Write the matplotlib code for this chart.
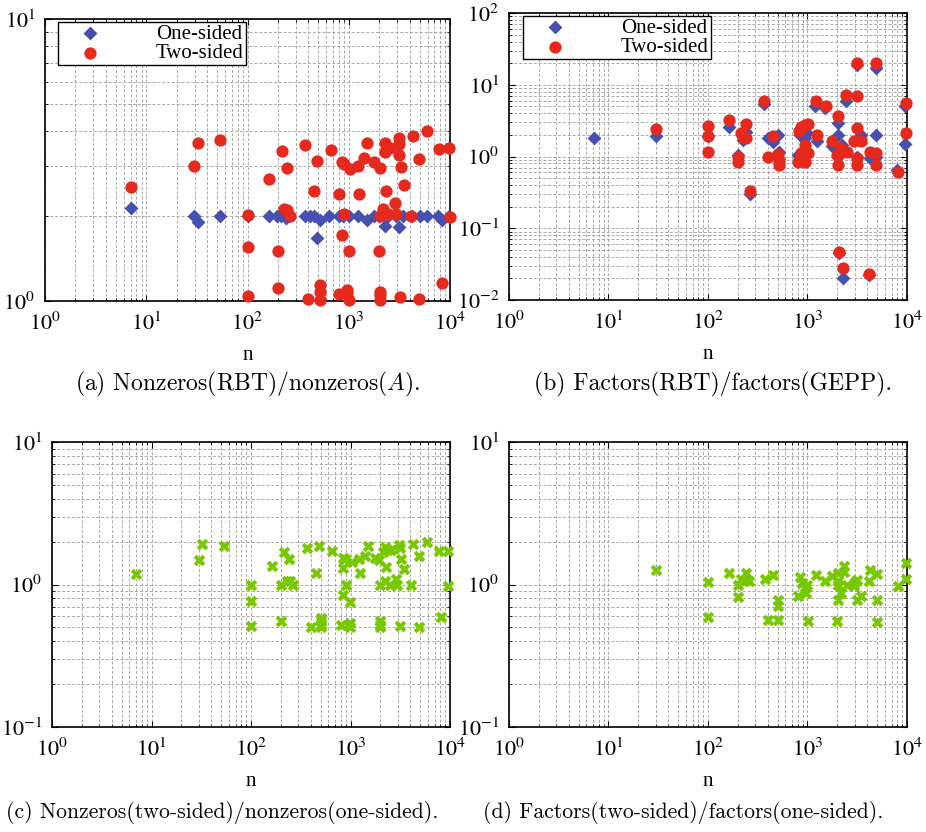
import numpy as np
import matplotlib
matplotlib.use("Agg")
import matplotlib.pyplot as plt
from matplotlib.ticker import LogLocator, FixedLocator, NullFormatter

plt.rcParams['font.family'] = ['Liberation Serif', 'DejaVu Serif']
plt.rcParams['mathtext.fontset'] = 'stix'

# ---- data: panel (a) nonzeros(RBT)/nonzeros(A)
a_one_n = [7.07, 29.9, 32.7, 53.5, 100, 164, 197, 213, 240, 259, 370, 414, 454, 482, 520, 643, 807, 885,
           1000, 1244, 1503, 1791, 2005, 2280, 2461, 2931, 3160, 3460, 4180, 5055, 5970, 7670, 8280, 9850]
a_one_r = [2.13, 2.0, 1.90, 2.0, 2.0, 2.0, 2.0, 2.0, 1.97, 2.0, 2.0, 2.0, 2.0, 1.67, 1.94, 2.0, 2.0, 2.0,
           2.0, 2.0, 1.94, 2.0, 2.0, 1.85, 2.0, 2.0, 1.83, 2.0, 2.0, 2.0, 2.0, 2.0, 1.94, 2.0]
a_two_n = [7.07, 29.9, 32.7, 53.5, 101, 101, 101, 164, 219, 229, 244, 244, 263, 200, 200, 370, 398, 454,
           482, 520, 520, 515, 663, 807, 850, 897, 897, 850, 801, 968, 968, 1013, 1013, 1029, 1233, 1262,
           1415, 1503, 1791, 2036, 2005, 2020, 2020, 2020, 2020, 2280, 2280, 2340, 2556, 2320, 2200, 2461,
           2862, 2931, 3160, 3160, 3160, 3260, 3513, 3180, 4120, 4350, 4940, 4940, 5970, 7730, 8280, 9700,
           10000]
a_two_r = [2.53, 3.01, 3.64, 3.72, 2.02, 1.56, 1.04, 2.71, 3.41, 2.12, 2.11, 2.97, 2.0, 1.50, 1.11, 3.56,
           1.02, 2.45, 3.14, 1.14, 1.08, 1.01, 3.43, 2.39, 3.10, 3.05, 2.03, 1.71, 1.06, 1.09, 1.07, 1.01,
           1.51, 2.94, 3.01, 2.40, 3.22, 3.62, 3.10, 2.97, 1.50, 2.0, 1.08, 1.05, 1.01, 3.62, 3.38, 3.43,
           3.50, 2.46, 2.12, 2.03, 2.23, 2.03, 3.80, 3.60, 3.29, 2.99, 2.57, 1.03, 2.0, 3.84, 3.20, 1.02,
           4.0, 3.45, 1.16, 3.48, 1.98]

# ---- data: panel (b) factors(RBT)/factors(GEPP)
b_one_n = [7.1, 30.3, 100, 163, 200, 225, 243, 262, 365, 401, 450, 505, 520, 803, 834, 950, 988, 1200,
           1255, 1486, 1777, 2028, 2028, 2056, 2240, 2028, 2275, 2420, 3170, 3170, 3420, 4290, 4120, 4920,
           4920, 4920, 8000, 9620, 9620]
b_one_r = [1.80, 1.90, 1.94, 2.56, 1.05, 1.71, 2.23, 0.30, 5.43, 1.80, 1.58, 2.0, 1.14, 1.05, 2.0, 1.8,
           2.1, 5.1, 1.62, 4.72, 1.38, 2.92, 2.0, 0.0448, 1.46, 1.0, 0.020, 5.85, 19.0, 0.98, 2.0, 0.95,
           0.0223, 17.1, 2.0, 1.0, 0.65, 5.1, 1.50]
b_two_n = [30.3, 100, 100, 100, 163, 200, 200, 216, 225, 243, 243, 262, 365, 401, 450, 505, 515, 520,
           803, 815, 867, 937, 1012, 950, 950, 1012, 950, 870, 1228, 1255, 1524, 1777, 2028, 1990, 2028,
           2188, 2056, 2275, 2420, 2512, 2910, 3170, 3170, 3170, 3170, 3170, 3475, 4290, 4120, 4920, 4920,
           4920, 8130, 9700, 9700]
b_two_r = [2.40, 2.68, 1.94, 1.15, 3.18, 1.0, 0.85, 2.12, 1.84, 2.86, 1.80, 0.33, 5.98, 1.0, 1.94, 1.1,
           0.90, 0.77, 0.85, 2.28, 2.54, 2.77, 2.83, 1.46, 1.17, 1.12, 0.83, 1.12, 5.98, 2.0, 5.1, 1.62,
           3.61, 1.05, 0.77, 1.31, 0.0463, 0.0277, 7.24, 1.15, 1.62, 20.0, 6.95, 2.48, 0.96, 0.75, 1.67,
           1.16, 0.0232, 20.0, 1.12, 0.75, 0.60, 5.55, 2.12]

# ---- data: panel (c) nonzeros(two-sided)/nonzeros(one-sided)
c_n = [7.03, 29.9, 32.1, 53, 100, 100, 100, 162, 199, 199, 215, 229, 240, 245, 263, 363, 399, 448, 480,
       507, 507, 507, 500, 653, 798, 836, 836, 836, 889, 900, 991, 980, 991, 1028, 1230, 1240, 1400, 1502,
       1766, 1952, 2000, 2000, 2000, 2000, 2144, 2225, 2300, 2225, 2402, 2580, 2480, 2870, 2930, 3100,
       3120, 3221, 3150, 3450, 4055, 4285, 4920, 4920, 5920, 7700, 8130, 9620, 9620]
c_r = [1.18, 1.48, 1.92, 1.86, 1.0, 0.77, 0.51, 1.35, 1.0, 0.55, 1.70, 1.05, 1.50, 1.05, 1.0, 1.79, 0.50,
       1.21, 1.87, 0.58, 0.55, 0.52, 0.50, 1.71, 0.52, 1.31, 1.54, 0.84, 1.50, 1.0, 0.75, 0.54, 0.50, 1.45,
       1.5, 1.20, 1.59, 1.86, 1.54, 1.48, 1.0, 0.55, 0.52, 0.50, 1.70, 1.82, 1.33, 1.05, 1.74, 1.75, 1.0,
       1.1, 1.0, 1.89, 1.79, 1.5, 0.51, 1.28, 1.0, 1.92, 1.58, 0.50, 2.0, 1.72, 0.59, 1.72, 0.98]

# ---- data: panel (d) factors(two-sided)/factors(one-sided)
d_n = [30.3, 101, 100, 163, 200, 200, 216, 239, 232, 258, 371, 401, 450, 505, 505, 505, 803, 834, 881,
       951, 988, 960, 1012, 1228, 1487, 1778, 2028, 2028, 2028, 2028, 1990, 2188, 2308, 2350, 2512, 2910,
       3020, 3170, 3170, 3475, 4120, 4290, 4990, 4990, 4990, 8130, 9700, 9700]
d_r = [1.26, 1.04, 0.59, 1.21, 1.0, 0.82, 1.09, 1.21, 1.05, 1.05, 1.10, 0.56, 1.17, 0.78, 0.71, 0.565,
       0.83, 1.13, 1.02, 0.965, 0.99, 0.87, 0.55, 1.17, 1.05, 1.15, 1.21, 1.05, 1.0, 0.78, 0.55, 0.875,
       1.35, 1.22, 1.0, 0.98, 1.04, 1.07, 0.78, 0.835, 1.05, 1.26, 1.18, 0.78, 0.545, 0.97, 1.41, 1.09]

captions = ["(a) Nonzeros(RBT)/nonzeros($A$).",
            "(b) Factors(RBT)/factors(GEPP).",
            "(c) Nonzeros(two-sided)/nonzeros(one-sided).",
            "(d) Factors(two-sided)/factors(one-sided)."]
legend_labels = ["One-sided", "Two-sided"]

BLUE = '#4650ae'
RED = '#e5291d'
GREEN = '#78c800'
FS = 15

fig = plt.figure(figsize=(9.26, 8.32), dpi=100)
W, H = 926.0, 832.0


def make_axes(l, t, r, b):
    return fig.add_axes([l / W, 1 - b / H, (r - l) / W, (b - t) / H])


axa = make_axes(45, 19, 450, 301)
axb = make_axes(509, 13, 907, 300)
axc = make_axes(52, 442, 450, 727)
axd = make_axes(509, 442, 907, 727)


def style(ax, ylo, yhi):
    ax.set_xscale('log')
    ax.set_yscale('log')
    ax.set_xlim(1, 1e4)
    ax.set_ylim(ylo, yhi)
    ax.xaxis.set_major_locator(FixedLocator([1, 10, 100, 1000, 10000]))
    ax.xaxis.set_minor_locator(LogLocator(base=10, subs=np.arange(2, 10)))
    ax.xaxis.set_minor_formatter(NullFormatter())
    ex = np.arange(int(np.log10(ylo)), int(np.log10(yhi)) + 1)
    ax.yaxis.set_major_locator(FixedLocator(10.0 ** ex))
    ax.yaxis.set_minor_locator(LogLocator(base=10, subs=np.arange(2, 10)))
    ax.yaxis.set_minor_formatter(NullFormatter())
    ax.set_xticklabels([r'$10^{%d}$' % k for k in range(5)])
    ax.set_yticklabels([r'$10^{%d}$' % k for k in ex])
    ax.grid(True, which='both', color='#a8a8a8', linestyle=(0, (3, 2)), linewidth=0.7)
    ax.set_axisbelow(True)
    ax.tick_params(which='both', direction='in', top=True, right=True, labelsize=16)
    ax.tick_params(which='major', length=4, width=0.8)
    ax.tick_params(which='minor', length=2, width=0.6)
    ax.tick_params(axis='x', pad=8)
    ax.tick_params(axis='y', pad=7)
    for s in ax.spines.values():
        s.set_linewidth(1.2)
    ax.set_xlabel('n', fontsize=FS, labelpad=8)


style(axa, 1, 10)
style(axb, 1e-2, 1e2)
style(axc, 0.1, 10)
style(axd, 0.1, 10)

axa.scatter(a_one_n, a_one_r, marker='D', s=50, color=BLUE, lw=0, clip_on=False, zorder=3,
            label=legend_labels[0])
axa.scatter(a_two_n, a_two_r, marker='o', s=78, color=RED, lw=0, clip_on=False, zorder=4,
            label=legend_labels[1])
axb.scatter(b_one_n, b_one_r, marker='D', s=50, color=BLUE, lw=0, clip_on=False, zorder=3,
            label=legend_labels[0])
axb.scatter(b_two_n, b_two_r, marker='o', s=78, color=RED, lw=0, clip_on=False, zorder=4,
            label=legend_labels[1])
axc.scatter(c_n, c_r, marker='X', s=70, color=GREEN, lw=0, clip_on=False, zorder=3)
axd.scatter(d_n, d_r, marker='X', s=70, color=GREEN, lw=0, clip_on=False, zorder=3)

for ax, (bx, by) in ((axa, (58, 22)), (axb, (523, 16))):
    l0, t0 = ax.get_position().x0 * W, (1 - ax.get_position().y1) * H
    wpx = ax.get_position().width * W
    hpx = ax.get_position().height * H
    leg = ax.legend(loc='upper left', bbox_to_anchor=((bx - l0) / wpx, 1 - (by - t0) / hpx),
                    borderaxespad=0, fancybox=False, edgecolor='k', framealpha=1, fontsize=FS,
                    handlelength=2.9, handletextpad=1.7, borderpad=0.1, labelspacing=0.0,
                    scatterpoints=1)
    leg.get_frame().set_linewidth(1.0)

cap_pos = [(248, 384), (713, 384), (222, 812), (683, 812)]
cap_size = [17, 17, 15.6, 15.6]
for txt, (cx, cy), fs in zip(captions, cap_pos, cap_size):
    fig.text(cx / W, 1 - cy / H, txt, ha='center', va='center', fontsize=fs,
             family='cmr10', math_fontfamily='cm')

fig.savefig('out.png', dpi=100)
